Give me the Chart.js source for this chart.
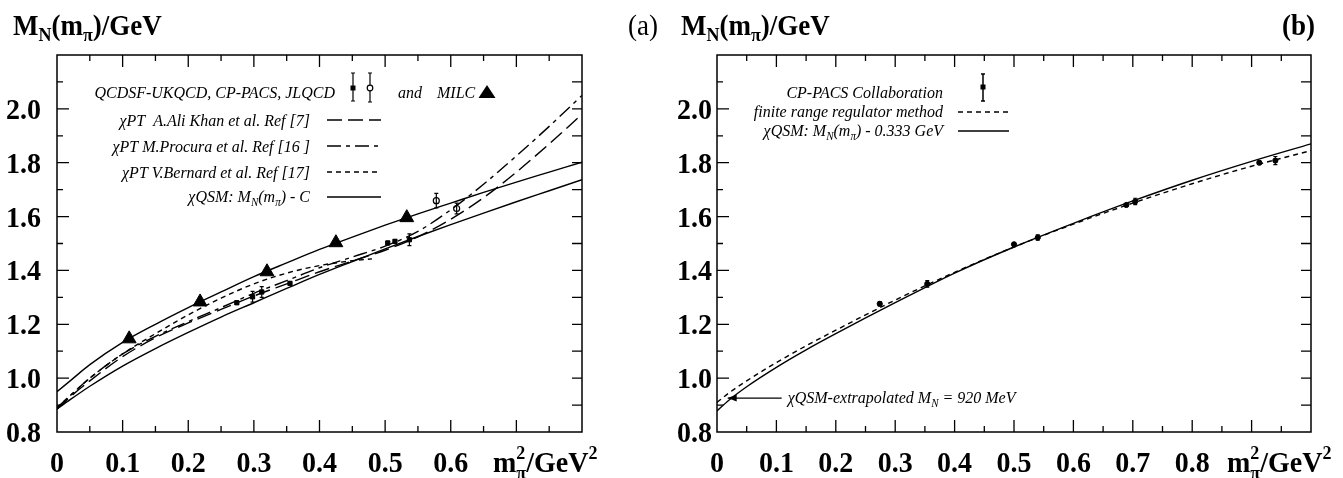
<!DOCTYPE html>
<html><head><meta charset="utf-8">
<script src="https://cdn.jsdelivr.net/npm/chart.js@4/dist/chart.umd.min.js"></script>
<style>
html,body{margin:0;padding:0;background:#fff;}
#wrap{position:relative;width:1343px;height:478px;overflow:hidden;background:#fff;}
canvas{position:absolute;top:0;}
#ca{left:0;width:672px;height:478px;}
#cb{left:672px;width:671px;height:478px;}
</style></head><body>
<div id="wrap"><canvas id="ca" width="672" height="478"></canvas><canvas id="cb" width="671" height="478"></canvas></div>
<script>
// ---------------- DATA : panel (a) ----------------
const xGridA    = [0, 0.02, 0.05, 0.1, 0.15, 0.2, 0.25, 0.3, 0.35, 0.4, 0.45, 0.5, 0.55, 0.6, 0.65, 0.7, 0.75, 0.8];
const qsmUpperA = [0.95, 0.99, 1.05, 1.133, 1.20, 1.262, 1.32, 1.377, 1.428, 1.478, 1.524, 1.568, 1.61, 1.65, 1.69, 1.728, 1.765, 1.802];
const qsmLowerA = [0.885, 0.92, 0.97, 1.045, 1.11, 1.17, 1.227, 1.28, 1.333, 1.385, 1.433, 1.48, 1.526, 1.57, 1.613, 1.655, 1.696, 1.737];
const aliKhanA  = [0.885, 0.93, 0.99, 1.08, 1.15, 1.205, 1.255, 1.305, 1.35, 1.395, 1.435, 1.475, 1.525, 1.59, 1.67, 1.765, 1.87, 1.98];
const procuraA  = [0.89, 0.935, 1.0, 1.09, 1.155, 1.21, 1.262, 1.315, 1.362, 1.41, 1.45, 1.49, 1.545, 1.625, 1.72, 1.825, 1.935, 2.05];
const bernardX  = [0, 0.02, 0.05, 0.1, 0.15, 0.2, 0.25, 0.3, 0.35, 0.4, 0.45, 0.48];
const bernardY  = [0.89, 0.935, 1.0, 1.09, 1.165, 1.235, 1.297, 1.35, 1.39, 1.418, 1.436, 1.443];
const milcX = [0.110, 0.218, 0.320, 0.425, 0.533];
const milcY = [1.146, 1.283, 1.395, 1.503, 1.596];
const sqX   = [0.274, 0.298, 0.312, 0.355, 0.504, 0.515, 0.537];
const sqY   = [1.280, 1.302, 1.320, 1.352, 1.502, 1.508, 1.514];
const sqErr = [0.006, 0.020, 0.020, 0.006, 0.006, 0.006, 0.022];
const circX   = [0.578, 0.609];
const circY   = [1.659, 1.630];
const circErr = [0.027, 0.020];
const xTickValsA   = [0, 0.1, 0.2, 0.3, 0.4, 0.5, 0.6];
const xTickLabelsA = ['0', '0.1', '0.2', '0.3', '0.4', '0.5', '0.6'];
// ---------------- DATA : panel (b) ----------------
const xGridB = [0, 0.02, 0.05, 0.1, 0.15, 0.2, 0.3, 0.4, 0.5, 0.6, 0.7, 0.8, 0.9, 1.0];
const qsmB   = [0.878, 0.918, 0.968, 1.04, 1.105, 1.165, 1.28, 1.39, 1.487, 1.575, 1.658, 1.735, 1.805, 1.87];
const frrB   = [0.91, 0.945, 0.99, 1.058, 1.12, 1.178, 1.29, 1.393, 1.487, 1.572, 1.65, 1.722, 1.787, 1.845];
const cpX   = [0.274, 0.354, 0.500, 0.540, 0.689, 0.704, 0.913, 0.940];
const cpY   = [1.276, 1.350, 1.497, 1.522, 1.643, 1.656, 1.800, 1.808];
const cpErr = [0.008, 0.012, 0.005, 0.010, 0.005, 0.012, 0.005, 0.015];
const annotB = [0.018, 0.926];
const xTickValsB   = [0, 0.1, 0.2, 0.3, 0.4, 0.5, 0.6, 0.7, 0.8];
const xTickLabelsB = ['0', '0.1', '0.2', '0.3', '0.4', '0.5', '0.6', '0.7', '0.8'];
// ---------------- shared y ticks ----------------
const yTickVals   = [0.8, 1.0, 1.2, 1.4, 1.6, 1.8, 2.0];
const yTickLabels = ['0.8', '1.0', '1.2', '1.4', '1.6', '1.8', '2.0'];

// ---------------- helpers ----------------
const SERIF = '"Liberation Serif","Times New Roman",serif';
const pts = (xs, ys) => xs.map((x, i) => ({x, y: ys[i]}));
function partW(ctx, p) {
  if (p.stack) return Math.max(...p.stack.map(s => { ctx.font = s.f; return ctx.measureText(s.t).width; }));
  ctx.font = p.f; return ctx.measureText(p.t).width;
}
function txt(ctx, t, x, y, sy) {
  if (!sy || sy === 1) { ctx.fillText(t, x, y); return; }
  ctx.save(); ctx.translate(x, y); ctx.scale(1, sy); ctx.fillText(t, 0, 0); ctx.restore();
}
function drawRich(ctx, parts, x, y, align, sy) {
  let w = 0; for (const p of parts) w += partW(ctx, p);
  let cx = align === 'right' ? x - w : (align === 'center' ? x - w / 2 : x);
  ctx.textAlign = 'left'; ctx.textBaseline = 'alphabetic';
  for (const p of parts) {
    const pw = partW(ctx, p);
    if (p.stack) { for (const s of p.stack) { ctx.font = s.f; txt(ctx, s.t, cx, y + s.dy, sy); } }
    else { ctx.font = p.f; txt(ctx, p.t, cx, y + (p.dy || 0), sy); }
    cx += pw;
  }
  return w;
}
const B27 = `bold 27px ${SERIF}`, B18 = `bold 18px ${SERIF}`, B28 = `bold 28px ${SERIF}`;
const I16 = `italic 16px ${SERIF}`, I11 = `italic 11px ${SERIF}`;
function titleParts() {
  return [{t:'M', f:B27}, {t:'N', f:B18, dy:6}, {t:'(m', f:B27}, {t:'\u03C0', f:B18, dy:6}, {t:')/GeV', f:B27}];
}
function xTitleParts() {
  return [{t:'m', f:B28}, {stack:[{t:'2', f:B18, dy:-13}, {t:'\u03C0', f:B18, dy:7}]}, {t:'/GeV', f:B28}, {t:'2', f:B18, dy:-13}];
}

function axesPlugin(cfg) {
  return {
    id: 'axes_' + cfg.name,
    afterDraw(chart) {
      const ctx = chart.ctx, a = chart.chartArea, xs = chart.scales.x, ys = chart.scales.y;
      ctx.save();
      ctx.strokeStyle = '#000'; ctx.fillStyle = '#000';
      ctx.lineWidth = 1.5;
      ctx.strokeRect(a.left, a.top, a.right - a.left, a.bottom - a.top);
      ctx.lineWidth = 1.3;
      ctx.beginPath();
      const nx = Math.round(xs.max / 0.05);
      for (let i = 1; i < nx; i++) {
        const px = xs.getPixelForValue(i * 0.05), L = (i % 2 === 0) ? 12 : 6;
        ctx.moveTo(px, a.bottom); ctx.lineTo(px, a.bottom - L);
        ctx.moveTo(px, a.top); ctx.lineTo(px, a.top + L);
      }
      for (let i = 1; i < 14; i++) {
        const py = ys.getPixelForValue(0.8 + i * 0.1), L = (i % 2 === 0) ? 12 : 6;
        ctx.moveTo(a.left, py); ctx.lineTo(a.left + L, py);
        ctx.moveTo(a.right, py); ctx.lineTo(a.right - 10, py);
      }
      ctx.stroke();
      ctx.font = B28; ctx.textAlign = 'center'; ctx.textBaseline = 'alphabetic';
      cfg.xVals.forEach((v, i) => txt(ctx, cfg.xLabels[i], xs.getPixelForValue(v), 472, 1.08));
      ctx.textAlign = 'right';
      yTickVals.forEach((v, i) => txt(ctx, yTickLabels[i], cfg.yLabelRight, ys.getPixelForValue(v) + 10, 1.08));
      drawRich(ctx, xTitleParts(), cfg.xTitleX, 472, 'left', 1.08);
      drawRich(ctx, titleParts(), cfg.titleX, 35, 'left', 1.08);
      ctx.font = cfg.tagFont; ctx.textAlign = 'left';
      txt(ctx, cfg.tag, cfg.tagX, 35, 1.08);
      ctx.restore();
    }
  };
}
function errPlugin(name, sets) {
  return {
    id: 'err_' + name,
    afterDatasetsDraw(chart) {
      const ctx = chart.ctx, xs = chart.scales.x, ys = chart.scales.y;
      ctx.save(); ctx.strokeStyle = '#000'; ctx.lineWidth = 1.2; ctx.beginPath();
      for (const s of sets) {
        s.x.forEach((xv, i) => {
          const px = xs.getPixelForValue(xv), t = ys.getPixelForValue(s.y[i] + s.e[i]), b = ys.getPixelForValue(s.y[i] - s.e[i]);
          ctx.moveTo(px, t); ctx.lineTo(px, b);
          ctx.moveTo(px - 2, t); ctx.lineTo(px + 2, t);
          ctx.moveTo(px - 2, b); ctx.lineTo(px + 2, b);
        });
      }
      ctx.stroke(); ctx.restore();
    }
  };
}
function seg(ctx, x1, x2, y, dash) {
  ctx.save(); ctx.setLineDash(dash); ctx.lineWidth = 1.5; ctx.beginPath(); ctx.moveTo(x1, y); ctx.lineTo(x2, y); ctx.stroke(); ctx.restore();
}
const legendA = {
  id: 'legendA',
  afterDraw(chart) {
    const ctx = chart.ctx; ctx.save(); ctx.fillStyle = '#000'; ctx.strokeStyle = '#000';
    drawRich(ctx, [{t:'QCDSF-UKQCD, CP-PACS, JLQCD', f:I16}], 335, 98, 'right', 1.1);
    ctx.lineWidth = 1.2; ctx.beginPath();
    ctx.moveTo(353, 73); ctx.lineTo(353, 101); ctx.moveTo(351, 73); ctx.lineTo(355, 73); ctx.moveTo(351, 101); ctx.lineTo(355, 101);
    ctx.moveTo(370, 73); ctx.lineTo(370, 102); ctx.moveTo(368, 73); ctx.lineTo(372, 73); ctx.moveTo(368, 102); ctx.lineTo(372, 102);
    ctx.stroke();
    ctx.fillRect(350.5, 85.5, 5, 5);
    ctx.beginPath(); ctx.arc(370, 88, 2.8, 0, Math.PI * 2); ctx.fillStyle = '#fff'; ctx.fill(); ctx.stroke(); ctx.fillStyle = '#000';
    drawRich(ctx, [{t:'and', f:I16}], 398, 98, 'left', 1.1);
    drawRich(ctx, [{t:'MILC', f:I16}], 437, 98, 'left', 1.1);
    ctx.beginPath(); ctx.moveTo(487, 85); ctx.lineTo(495.5, 98); ctx.lineTo(478.5, 98); ctx.closePath(); ctx.fill();
    drawRich(ctx, [{t:'\u03C7PT  A.Ali Khan et al. Ref [7]', f:I16}], 310, 126, 'right', 1.1);
    seg(ctx, 327, 381, 120, [15, 6]);
    drawRich(ctx, [{t:'\u03C7PT M.Procura et al. Ref [16 ]', f:I16}], 310, 152, 'right', 1.1);
    seg(ctx, 327, 381, 146, [14, 5, 4, 5]);
    drawRich(ctx, [{t:'\u03C7PT V.Bernard et al. Ref [17]', f:I16}], 310, 178, 'right', 1.1);
    seg(ctx, 327, 381, 172, [5, 4]);
    drawRich(ctx, [{t:'\u03C7QSM: M', f:I16}, {t:'N', f:I11, dy:4}, {t:'(m', f:I16}, {t:'\u03C0', f:I11, dy:4}, {t:') - C', f:I16}], 310, 202, 'right', 1.1);
    seg(ctx, 327, 381, 197, []);
    ctx.restore();
  }
};
const legendB = {
  id: 'legendB',
  afterDraw(chart) {
    const ctx = chart.ctx, xs = chart.scales.x, ys = chart.scales.y; ctx.save(); ctx.fillStyle = '#000'; ctx.strokeStyle = '#000';
    drawRich(ctx, [{t:'CP-PACS Collaboration', f:I16}], 271, 98, 'right', 1.1);
    ctx.lineWidth = 1.5; ctx.beginPath();
    ctx.moveTo(311, 74); ctx.lineTo(311, 101); ctx.moveTo(309, 74); ctx.lineTo(313, 74); ctx.moveTo(309, 101); ctx.lineTo(313, 101); ctx.stroke();
    ctx.fillRect(308.5, 84.5, 5, 5);
    drawRich(ctx, [{t:'finite range regulator method', f:I16}], 271, 117, 'right', 1.1);
    seg(ctx, 286, 337, 112, [5, 4]);
    drawRich(ctx, [{t:'\u03C7QSM: M', f:I16}, {t:'N', f:I11, dy:4}, {t:'(m', f:I16}, {t:'\u03C0', f:I11, dy:4}, {t:') - 0.333 GeV', f:I16}], 271, 136, 'right', 1.1);
    seg(ctx, 286, 337, 131, []);
    const tx = xs.getPixelForValue(annotB[0]), ty = ys.getPixelForValue(annotB[1]);
    ctx.lineWidth = 1.2; ctx.beginPath(); ctx.moveTo(tx, ty); ctx.lineTo(tx + 54, ty); ctx.stroke();
    ctx.beginPath(); ctx.moveTo(tx, ty); ctx.lineTo(tx + 9, ty - 3.5); ctx.lineTo(tx + 9, ty + 3.5); ctx.closePath(); ctx.fill();
    drawRich(ctx, [{t:'\u03C7QSM-extrapolated M', f:I16}, {t:'N', f:I11, dy:4}, {t:' = 920 MeV', f:I16}], tx + 60, ty + 5, 'left', 1.1);
    ctx.restore();
  }
};

function lineDS(xs, ys, dash) {
  return {data: pts(xs, ys), showLine: true, borderColor: '#000', borderWidth: 1.4, borderDash: dash, pointRadius: 0, cubicInterpolationMode: 'monotone', fill: false};
}
function makeChart(id, datasets, xmax, pad, plugins) {
  return new Chart(document.getElementById(id), {
    type: 'scatter',
    data: {datasets},
    options: {
      responsive: false, animation: false, devicePixelRatio: 1,
      layout: {padding: pad},
      plugins: {legend: {display: false}, tooltip: {enabled: false}},
      scales: {
        x: {type: 'linear', min: 0, max: xmax, display: false},
        y: {type: 'linear', min: 0.8, max: 2.2, display: false}
      }
    },
    plugins
  });
}

makeChart('ca', [
  lineDS(xGridA, qsmUpperA, []),
  lineDS(xGridA, qsmLowerA, []),
  lineDS(xGridA, aliKhanA, [15, 6]),
  lineDS(xGridA, procuraA, [14, 5, 4, 5]),
  lineDS(bernardX, bernardY, [5, 4]),
  {data: pts(milcX, milcY), showLine: false, pointStyle: 'triangle', pointRadius: 8, backgroundColor: '#000', borderColor: '#000', borderWidth: 1},
  {data: pts(sqX, sqY), showLine: false, pointStyle: 'rect', pointRadius: 3, backgroundColor: '#000', borderColor: '#000', borderWidth: 1},
  {data: pts(circX, circY), showLine: false, pointStyle: 'circle', pointRadius: 3, backgroundColor: '#fff', borderColor: '#000', borderWidth: 1.2}
], 0.8, {left: 57, right: 90, top: 55, bottom: 46}, [
  errPlugin('a', [{x: sqX, y: sqY, e: sqErr}, {x: circX, y: circY, e: circErr}]),
  axesPlugin({name: 'a', xVals: xTickValsA, xLabels: xTickLabelsA, yLabelRight: 41, xTitleX: 493, titleX: 13, tag: '(a)', tagX: 628, tagFont: `27px ${SERIF}`}),
  legendA
]);

makeChart('cb', [
  lineDS(xGridB, qsmB, []),
  lineDS(xGridB, frrB, [5, 4]),
  {data: pts(cpX, cpY), showLine: false, pointStyle: 'circle', pointRadius: 2.6, backgroundColor: '#000', borderColor: '#000', borderWidth: 1}
], 1.0, {left: 45, right: 32, top: 55, bottom: 46}, [
  errPlugin('b', [{x: cpX, y: cpY, e: cpErr}]),
  axesPlugin({name: 'b', xVals: xTickValsB, xLabels: xTickLabelsB, yLabelRight: 40, xTitleX: 555, titleX: 9, tag: '(b)', tagX: 610, tagFont: `bold 27px ${SERIF}`}),
  legendB
]);
</script>
</body></html>
